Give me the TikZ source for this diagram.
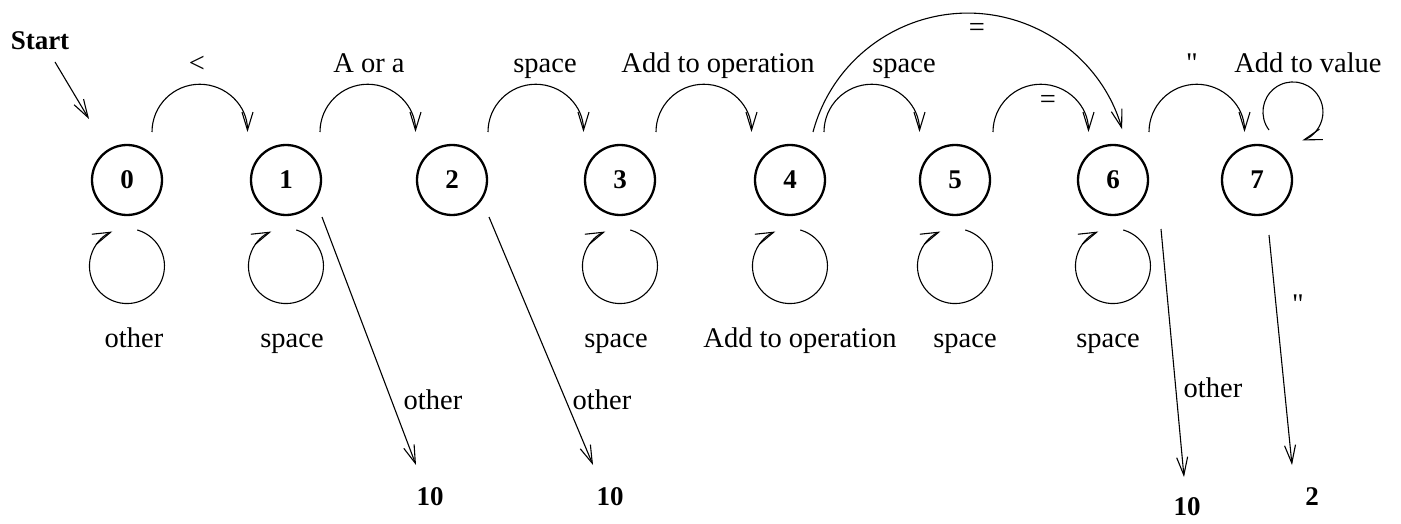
\documentclass[tikz,border=0pt]{standalone}
\usepackage{fontspec}
\setmainfont{Liberation Serif}
\newfontfamily\plainqfont{Liberation Serif}
\usetikzlibrary{arrows.meta}
\begin{document}
\begin{tikzpicture}[x=1pt,y=1pt,
  state/.style={circle,draw,line width=2.3pt,minimum size=70pt,inner sep=0pt,font=\fontsize{27}{32}\selectfont\bfseries},
  lbl/.style={font=\fontsize{28.5}{34}\selectfont,inner sep=0pt,anchor=base},
  clbl/.style={font=\fontsize{28.5}{34}\selectfont,inner sep=0pt},
  blbl/.style={font=\fontsize{27}{32}\selectfont\bfseries,inner sep=0pt},
  arr/.style={line width=1.1pt,-{Straight Barb[length=18pt,width=11pt,line width=1.1pt]}},
]
\useasboundingbox (0,0) rectangle (1401,523);

% states
\node[state] (n0) at (127,343) {0};
\node[state] (n1) at (286,343) {1};
\node[state] (n2) at (452,343) {2};
\node[state] (n3) at (620,343) {3};
\node[state] (n4) at (790,343) {4};
\node[state] (n5) at (955,343) {5};
\node[state] (n6) at (1113,343) {6};
\node[state] (n7) at (1257,343) {7};

% targets
\node[blbl] (st) at (40,482) {Start};
\node[blbl] (t1) at (430,26) {10};
\node[blbl] (t2) at (610,26) {10};
\node[blbl] (t3) at (1187,16) {10};
\node[blbl] (t4) at (1312,26) {2};

% start arrow
\draw[arr] ([shift={(15,-21)}]st.center) -- ([shift={(-38,61)}]n0.center);

% forward arcs
\draw[arr] ([shift={(25,48)}]n0.center) arc[start angle=180,end angle=0,radius=47.75];
\draw[arr] ([shift={(34,48)}]n1.center) arc[start angle=180,end angle=0,radius=47.75];
\draw[arr] ([shift={(36,48)}]n2.center) arc[start angle=180,end angle=0,radius=47.75];
\draw[arr] ([shift={(36,48)}]n3.center) arc[start angle=180,end angle=0,radius=47.75];
\draw[arr] ([shift={(34,48)}]n4.center) arc[start angle=180,end angle=0,radius=47.75];
\draw[arr] ([shift={(38,48)}]n5.center) arc[start angle=180,end angle=0,radius=47.75];
\draw[arr] ([shift={(36,48)}]n6.center) arc[start angle=180,end angle=0,radius=47.75];
% big arc 4 -> 6
\draw[arr] ([shift={(23,48)}]n4.center) arc[start angle=165,end angle=16,radius=160.4];
% self loop on 7
\draw[arr] ([shift={(12,50)}]n7.center) arc[start angle=217,end angle=-72,radius=30];

% self loops below
\foreach \n in {n0,n1,n3,n4,n5,n6}
  \draw[arr] ([shift={(10.3,-50)}]\n.center) arc[start angle=74,end angle=-247,radius=37.5];

% diagonal arrows
\draw[arr] ([shift={(36,-37)}]n1.center) -- ([shift={(-14,32)}]t1.center);
\draw[arr] ([shift={(37,-37)}]n2.center) -- ([shift={(-17,32)}]t2.center);
\draw[arr] ([shift={(48,-49)}]n6.center) -- ([shift={(-3,30)}]t3.center);
\draw[arr] ([shift={(12,-55)}]n7.center) -- ([shift={(-20,32)}]t4.center);

% top labels
\node[lbl] (la) at (197,450) {<};
\node[lbl] (lb) at (369,450) {A or a};
\node[lbl] (lc) at (545,450) {space};
\node[lbl] (ld) at (718,450) {Add to operation};
\node[lbl] (le) at (904,450) {space};
\node[clbl] (lf) at (977,493) {=};
\node[clbl] (lg) at (1048,421) {=};
\node[lbl] (lh) at (1192,450) {\plainqfont\symbol{34}};
\node[lbl] (li) at (1308,450) {Add to value};

% bottom labels
\node[lbl] (ma) at (134,176) {other};
\node[lbl] (mb) at (292,176) {space};
\node[lbl] (mc) at (616,176) {space};
\node[lbl] (md) at (800,176) {Add to operation};
\node[lbl] (me) at (965,176) {space};
\node[lbl] (mf) at (1108,176) {space};

% diagonal labels
\node[clbl] (oa) at (433,123) {other};
\node[clbl] (ob) at (602,123) {other};
\node[clbl] (oc) at (1213,135) {other};
\node[lbl] (od) at (1298,210) {\plainqfont\symbol{34}};
\end{tikzpicture}
\end{document}
